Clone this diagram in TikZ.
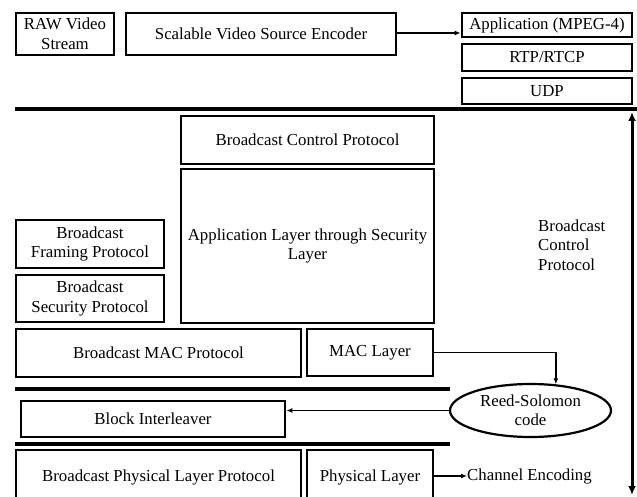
\documentclass[tikz,border=0pt]{standalone}
\usepackage{fontspec}
\setmainfont{Liberation Serif}
\usetikzlibrary{arrows.meta,shapes.geometric,calc}
\begin{document}
\begin{tikzpicture}[x=1pt,y=-1pt,
  box/.style={draw,line width=2.8pt,rectangle,inner sep=0pt,align=center,font=\fontsize{16.8}{19.5}\selectfont},
  conn/.style={line width=1.4pt,-{Latex[length=6pt,width=5pt]}},
  sep/.style={line width=3.8pt},
  txt/.style={inner sep=0pt,font=\fontsize{16.8}{19.5}\selectfont}]
\useasboundingbox (0,0) rectangle (637,497);
\clip (0,0) rectangle (637,497);
% top row
\node[box,minimum width=98,minimum height=42] (raw) at (65,34) {RAW Video\\Stream};
\node[box,minimum width=270,minimum height=42] (enc) at (261,34) {Scalable Video Source Encoder};
\node[box,minimum width=170,minimum height=24] (app) at (547,25) {Application (MPEG-4)};
\node[box,minimum width=170,minimum height=27] (rtp) at (547,57.5) {RTP/RTCP};
\node[box,minimum width=170,minimum height=26] (udp) at (547,91) {UDP};
% separators
\coordinate (s1a) at (15,109); \coordinate (s1b) at (637,109);
\coordinate (s2a) at (15,389); \coordinate (s2b) at (450,389);
\coordinate (s3a) at (15,444); \coordinate (s3b) at (450,444);
\draw[sep] (s1a) -- (s1b);
\draw[sep] (s2a) -- (s2b);
\draw[sep] (s3a) -- (s3b);
% middle
\node[box,minimum width=253,minimum height=48] (bcp) at (307.5,140) {Broadcast Control Protocol};
\node[box,minimum width=253,minimum height=154] (als) at (307.5,246) {Application Layer through Security\\Layer};
\node[box,minimum width=148,minimum height=48] (bfp) at (90,244) {Broadcast\\Framing Protocol};
\node[box,minimum width=148,minimum height=47] (bsp) at (90,298.5) {Broadcast\\Security Protocol};
\node[box,minimum width=285,minimum height=48] (bmac) at (158.5,353) {Broadcast MAC Protocol};
\node[box,minimum width=126,minimum height=47] (mac) at (370,352.5) {MAC Layer};
\node[box,minimum width=264,minimum height=36] (bi) at (153,419) {Block Interleaver};
\node[draw,line width=2.2pt,ellipse,inner sep=0pt,minimum width=161,minimum height=53,align=center,font=\fontsize{16.8}{19.5}\selectfont] (rs) at (530.5,410.5) {Reed-Solomon\\code};
\node[box,minimum width=285,minimum height=54] (bphy) at (158.5,477) {Broadcast Physical Layer Protocol};
\node[box,minimum width=126,minimum height=54] (phy) at (370,477) {Physical Layer};
\node[txt,anchor=west] (ce) at (467,476) {Channel Encoding};
\node[txt,anchor=west,align=left] (bcpl) at (538,245) {Broadcast\\Control\\Protocol};
% double arrow
\coordinate (dtop) at (632,112);
\coordinate (dbot) at (632,495);
\draw[line width=3pt,{Latex[length=9pt,width=8pt]}-{Latex[length=9pt,width=8pt]}] (dtop) -- (dbot);
% connectors
\draw[conn] (enc.east|-0,33) -- (app.west|-0,33);
\draw[conn] (mac.east) -| (rs.46);
\draw[conn] (rs.west) -- (rs.west -| bi.east);
\draw[conn] (phy.east|-ce.west) -- (ce.west);
\end{tikzpicture}
\end{document}
